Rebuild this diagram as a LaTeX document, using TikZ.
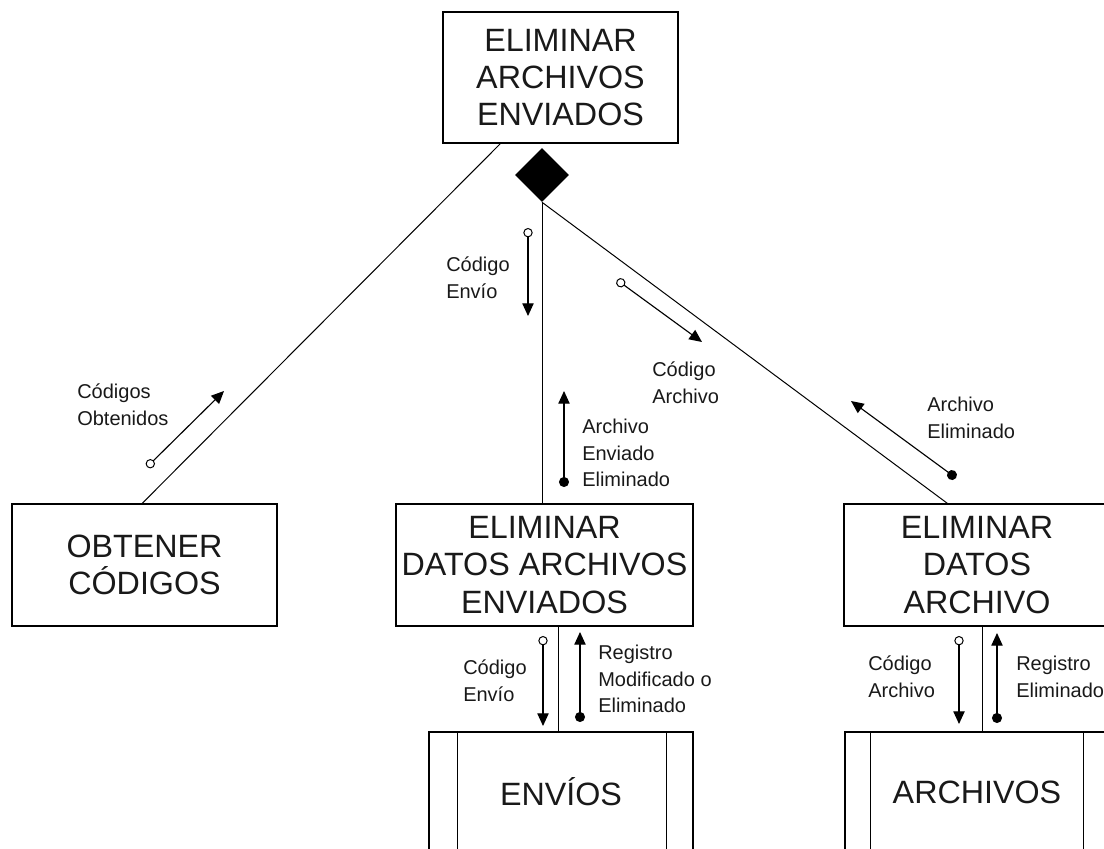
\documentclass[tikz,border=0pt]{standalone}
\usepackage{fontspec}
\setmainfont{Liberation Sans}
\usetikzlibrary{shapes.geometric,arrows.meta,calc}
\begin{document}
\begin{tikzpicture}[x=0.75pt,y=-0.75pt,
  box/.style={draw, line width=1.05pt, inner sep=0pt, align=center, text=black!90,
    font=\fontsize{24.2}{28}\selectfont},
  flow/.style={line width=0.75pt},
  lbl/.style={inner sep=0pt, anchor=west, align=left, text=black!90,
    font=\fontsize{15}{20}\selectfont},
  inarrow/.style={line width=0.85pt,
    {Circle[open,length=7pt,width=7pt,line width=0.75pt]}-{Triangle[length=9.5pt,width=8.5pt]}},
  outarrow/.style={line width=0.85pt,
    {Circle[length=7.5pt,width=7.5pt]}-{Triangle[length=9.5pt,width=8.5pt]}},
]
\useasboundingbox (0,0) rectangle (1104,849);
\clip (0,0) rectangle (1104,849);

% processes
\node[box, minimum width=176.25pt, minimum height=98.25pt] (top) at (560.5,77.5)
  {ELIMINAR\\ARCHIVOS\\ENVIADOS};
\node[box, minimum width=198.75pt, minimum height=91.5pt] (obt) at (144.5,565)
  {OBTENER\\CÓDIGOS};
\node[box, minimum width=222.75pt, minimum height=91.5pt] (mid) at (544.5,565)
  {ELIMINAR\\DATOS ARCHIVOS\\ENVIADOS};
\node[box, minimum width=199.5pt, minimum height=91.5pt] (rbox) at (977,565)
  {ELIMINAR\\DATOS\\ARCHIVO};

% data stores
\node[box, minimum width=198pt, minimum height=90pt] (env) at (561,792) {ENVÍOS};
\draw[line width=1.05pt] ($(env.north west)+(29,0)$) -- ($(env.south west)+(29,0)$);
\draw[line width=1.05pt] ($(env.north east)+(-27,0)$) -- ($(env.south east)+(-27,0)$);
\node[box, minimum width=198pt, minimum height=90pt] (arc) at (977,792) {ARCHIVOS};
\draw[line width=1.05pt] ($(arc.north west)+(26,0)$) -- ($(arc.south west)+(26,0)$);
\draw[line width=1.05pt] ($(arc.north east)+(-26,0)$) -- ($(arc.south east)+(-26,0)$);

% diamond
\node[diamond, fill=black, inner sep=0pt, minimum width=40.5pt, minimum height=40.5pt] (dia) at (542,175) {};

% connectors
\draw[flow] ($(top.south west)+(58,0)$) -- ($(obt.north west)+(131,0)$);
\draw[flow] (dia.south) -- (dia.south |- mid.north);
\draw[flow] (dia.south) -- ($(rbox.north west)+(104,0)$);
\coordinate (e1) at ($(env.north)+(-3,0)$);
\draw[flow] (e1) -- (e1 |- mid.south);
\coordinate (e2) at ($(arc.north)+(5,0)$);
\draw[flow] (e2) -- (e2 |- rbox.south);

% flow arrows
\coordinate (a1s) at (147,467); \coordinate (a1e) at (224,391);
\draw[inarrow] (a1s) -- (a1e);
\coordinate (a2s) at (528,228); \coordinate (a2e) at (528,316);
\draw[inarrow] (a2s) -- (a2e);
\coordinate (a3s) at (617,280); \coordinate (a3e) at (702,342);
\draw[inarrow] (a3s) -- (a3e);
\coordinate (a4s) at (564,487); \coordinate (a4e) at (564,391);
\draw[outarrow] (a4s) -- (a4e);
\coordinate (a5s) at (956,478); \coordinate (a5e) at (851,401);
\draw[outarrow] (a5s) -- (a5e);
\coordinate (a6s) at (543,636); \coordinate (a6e) at (543,726);
\draw[inarrow] (a6s) -- (a6e);
\coordinate (a7s) at (580,722); \coordinate (a7e) at (580,632);
\draw[outarrow] (a7s) -- (a7e);
\coordinate (a8s) at (959,636); \coordinate (a8e) at (959,724);
\draw[inarrow] (a8s) -- (a8e);
\coordinate (a9s) at (997,723); \coordinate (a9e) at (997,633);
\draw[outarrow] (a9s) -- (a9e);

% labels
\node[lbl] (l1) at (77,405) {Códigos\\Obtenidos};
\node[lbl] (l2) at (446,278) {Código\\Envío};
\node[lbl] (l3) at (652,383) {Código\\Archivo};
\node[lbl] (l4) at (582,453) {Archivo\\Enviado\\Eliminado};
\node[lbl] (l5) at (927,418) {Archivo\\Eliminado};
\node[lbl] (l6) at (463,681) {Código\\Envío};
\node[lbl] (l7) at (598,679) {Registro\\Modificado o\\Eliminado};
\node[lbl] (l8) at (868,677) {Código\\Archivo};
\node[lbl] (l9) at (1016,677) {Registro\\Eliminado};
\end{tikzpicture}
\end{document}
